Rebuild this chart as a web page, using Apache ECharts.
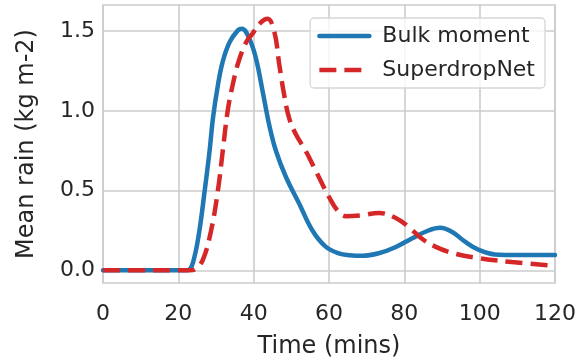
<!DOCTYPE html>
<html>
<head>
<meta charset="utf-8">
<script src="https://cdn.jsdelivr.net/npm/echarts@6/dist/echarts.min.js"></script>
<style>html,body{margin:0;padding:0;background:#fff}#c{width:579px;height:364px}</style>
</head>
<body>
<div id="c"></div>
<script>
var seriesNames = ['Bulk moment', 'SuperdropNet'];
var bulkTime = [0, 10, 20, 21.8, 23.0, 24.3, 25.6, 27.0, 28.3, 29.2, 30.5, 31.8, 33.6, 35.8, 36.9, 38.9, 40.6, 42.4, 44.1, 45.9, 48.6, 52.1, 55.6, 59.1, 62.6, 65.5, 68.8, 73.2, 77.6, 82, 86.4, 89.5, 92.6, 96.1, 99.7, 104, 110, 120];
var bulkRain = [0, 0, 0, 0.0, 0.006, 0.087, 0.25, 0.50, 0.75, 0.956, 1.16, 1.31, 1.43, 1.505, 1.515, 1.45, 1.33, 1.12, 0.915, 0.75, 0.584, 0.418, 0.25, 0.149, 0.107, 0.095, 0.091, 0.107, 0.145, 0.20, 0.25, 0.267, 0.242, 0.18, 0.129, 0.10, 0.096, 0.096];
var sdnTime = [0, 10, 20, 23.0, 24.5, 26.5, 28.7, 30.5, 31.8, 33.1, 34.4, 36.0, 38.0, 39.7, 42.0, 43.7, 45.5, 46.8, 48.1, 49.4, 51.2, 53.8, 56.9, 60.0, 62.2, 64.4, 68.8, 73.2, 77.6, 81.1, 84.6, 88.2, 93.5, 99.7, 108.5, 120];
var sdnRain = [0, 0, 0, 0.0, 0.008, 0.066, 0.25, 0.50, 0.75, 1.0, 1.16, 1.31, 1.43, 1.485, 1.557, 1.578, 1.495, 1.29, 1.10, 0.956, 0.853, 0.75, 0.604, 0.46, 0.377, 0.34, 0.346, 0.36, 0.33, 0.273, 0.20, 0.149, 0.104, 0.077, 0.052, 0.028];
var yTicks = [0, 0.5, 1.0, 1.5];

function pairs(xs, ys){ return xs.map(function(x,i){ return [x, ys[i]]; }); }

var textColor = '#262626';
var font = 'DejaVu Sans';
var chart = echarts.init(document.getElementById('c'), null, {renderer: 'canvas'});
chart.setOption({
  animation: false,
  backgroundColor: '#ffffff',
  textStyle: {fontFamily: font, color: textColor},
  grid: {left: 103, right: 22, top: 5, bottom: 77, show: true, borderColor: '#cccccc', borderWidth: 1.6, backgroundColor: 'transparent'},
  legend: {
    data: seriesNames,
    orient: 'vertical', right: 34, top: 18,
    align: 'left',
    itemWidth: 50, itemHeight: 14, itemGap: 8,
    padding: [5, 10, 5, 7],
    backgroundColor: 'rgba(255,255,255,0.8)',
    borderColor: '#d6d6d6', borderWidth: 1.3, borderRadius: 4,
    itemStyle: {opacity: 0},
    lineStyle: {width: 4.5},
    textStyle: {fontFamily: font, fontSize: 22, color: textColor, lineHeight: 26, padding: [0, 0, 0, 8]}
  },
  xAxis: {
    type: 'value', min: 0, max: 120, interval: 20,
    axisLine: {show: false}, axisTick: {show: false},
    splitLine: {show: true, lineStyle: {color: '#cccccc', width: 1.6}},
    axisLabel: {fontFamily: font, fontSize: 22, color: textColor, margin: 20, showMaxLabel: true, showMinLabel: true},
    name: 'Time (mins)', nameLocation: 'middle', nameGap: 52,
    nameTextStyle: {fontFamily: font, fontSize: 24, color: textColor}
  },
  yAxis: {
    type: 'value', min: -0.0793, max: 1.664,
    axisLine: {show: false},
    axisTick: {show: false, customValues: yTicks},
    splitLine: {show: true, lineStyle: {color: '#cccccc', width: 1.6}},
    axisLabel: {fontFamily: font, fontSize: 22, color: textColor, margin: 8, customValues: yTicks,
      formatter: function(v){ return v.toFixed(1); }},
    name: 'Mean rain (kg m-2)', nameLocation: 'middle', nameGap: 64, nameRotate: 90,
    nameTextStyle: {fontFamily: font, fontSize: 24, color: textColor}
  },
  series: [
    {name: seriesNames[0], type: 'line', data: pairs(bulkTime, bulkRain), smooth: 0.4, showSymbol: false, symbol: 'none',
     lineStyle: {color: '#1f77b4', width: 4.5, cap: 'round'}, itemStyle: {color: '#1f77b4'}, z: 2},
    {name: seriesNames[1], type: 'line', data: pairs(sdnTime, sdnRain), smooth: 0.4, showSymbol: false, symbol: 'none',
     lineStyle: {color: '#d62728', width: 4.5, type: [17, 8]}, itemStyle: {color: '#d62728'}, z: 3}
  ]
});
</script>
</body>
</html>
